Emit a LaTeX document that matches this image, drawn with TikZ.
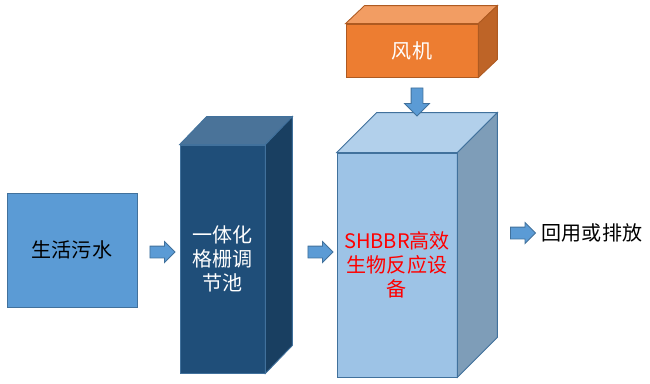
\documentclass[tikz,border=0pt]{standalone}
\usepackage{fontspec}
\setmainfont{Noto Sans CJK SC}
\usetikzlibrary{calc, shapes.arrows, positioning}

\definecolor{boxblue}{HTML}{5B9BD5}
\definecolor{edgeblue}{HTML}{41719C}
\definecolor{tankfront}{HTML}{1F4E79}
\definecolor{tanktop}{HTML}{4A7399}
\definecolor{tankside}{HTML}{193F61}
\definecolor{reactfront}{HTML}{9DC3E6}
\definecolor{reacttop}{HTML}{B2D0EB}
\definecolor{reactside}{HTML}{7E9DB8}
\definecolor{fanfront}{HTML}{ED7D31}
\definecolor{fantop}{HTML}{F29D63}
\definecolor{fanside}{HTML}{BE6427}
\definecolor{fanedge}{HTML}{AE5A21}

\tikzset{
    cn/.style={font=\fontsize{11.4pt}{13.7pt}\selectfont},
    face/.style={draw=edgeblue, line width=0.5pt},
    blockarrow/.style={single arrow, fill=boxblue, draw=edgeblue, line width=0.5pt, inner sep=0pt,
        text height=0.22cm, text depth=0pt, text width=0pt,
        minimum height=0.5cm, single arrow head extend=0.09cm}
}

\begin{document}
\begin{tikzpicture}[x=0.02cm, y=-0.02cm]
    \useasboundingbox (0,0) rectangle (650,383);

    % Sewage
    \node[face, cn, fill=boxblue, minimum width=2.6cm, minimum height=2.28cm] (sewage) at (72,250) {生活污水};

    % Grille tank
    \node[face, cn, fill=tankfront, text=white, align=center, minimum width=1.7cm, minimum height=4.56cm] (tank) at (222.5,259) {一体化\\格栅调\\节池};
    \filldraw[face, fill=tanktop] (tank.north west) -- ++(27,-28) -- ($(tank.north east)+(27,-28)$) -- (tank.north east) -- cycle;
    \filldraw[face, fill=tankside] (tank.north east) -- ++(27,-28) -- ($(tank.south east)+(27,-28)$) -- (tank.south east) -- cycle;

    % Reactor
    \node[face, cn, fill=reactfront, text=red, align=center, minimum width=2.4cm, minimum height=4.48cm] (reactor) at (397,265) {SHBBR高效\\生物反应设\\备};
    \filldraw[face, fill=reacttop] (reactor.north west) -- ++(40,-40) -- ($(reactor.north east)+(40,-40)$) -- (reactor.north east) -- cycle;
    \filldraw[face, fill=reactside] (reactor.north east) -- ++(40,-40) -- ($(reactor.south east)+(40,-40)$) -- (reactor.south east) -- cycle;

    % Fan
    \node[face, cn, draw=fanedge, fill=fanfront, text=white, minimum width=2.64cm, minimum height=1.06cm] (fan) at (412,50.5) {风机};
    \filldraw[face, draw=fanedge, fill=fantop] (fan.north west) -- ++(19,-18) -- ($(fan.north east)+(19,-18)$) -- (fan.north east) -- cycle;
    \filldraw[face, draw=fanedge, fill=fanside] (fan.north east) -- ++(19,-18) -- ($(fan.south east)+(19,-18)$) -- (fan.south east) -- cycle;

    % Output
    \node[cn] (reuse) at (592,233) {回用或排放};

    % Arrows
    \node[blockarrow] (a1) at (159.5,252) {};
    \node[blockarrow] (a2) at (317.5,252) {};
    \node[blockarrow] (a3) at (520,233) {};
    \node[blockarrow, rotate=-90, minimum height=0.56cm, single arrow head extend=0.13cm] (a4) at (417,99) {};
\end{tikzpicture}
\end{document}
